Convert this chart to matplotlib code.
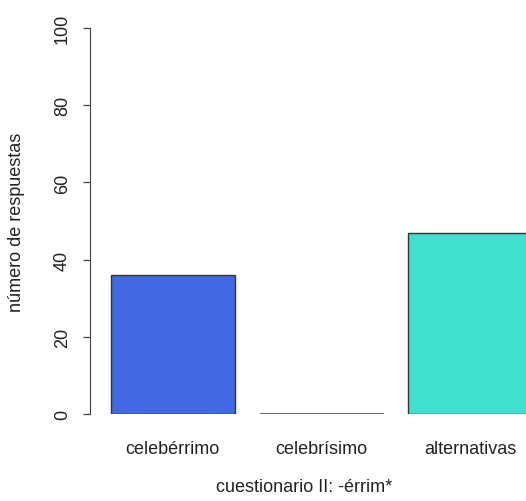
import matplotlib
matplotlib.use("Agg")
import matplotlib.pyplot as plt

categories = ["celebérrimo", "celebrísimo", "alternativas"]
values = [36, 0, 47]
colors = ["#4169E1", "#FFFFFF", "#40E0D0"]
yticks = [0, 20, 40, 60, 80, 100]

plt.rcParams['font.family'] = ['Liberation Sans', 'DejaVu Sans']
FS = 13

W, H = 526, 502
fig = plt.figure(figsize=(W/100, H/100), dpi=100)
# axes spans pixel x 100..526, y 29..415 (top-down)
ax = fig.add_axes([100/W, (H-415)/H, (526-100)/W, (415-29)/H])

lefts = [0.2 + i*1.2 for i in range(len(values))]
centers = [l + 0.5 for l in lefts]
ax.bar(centers, values, width=1.0, color=colors, edgecolor="#333333", linewidth=1.0)
# zero-height bar shows as a line
for c, v in zip(centers, values):
    if v == 0:
        ax.plot([c-0.5, c+0.5], [0, 0], color="#555555", lw=1.2, solid_capstyle='butt')

ax.set_xlim(0.2 - 10.7/124, 0.2 + 415.3/124)
ax.set_ylim(0, 100)
for s in ["top", "right", "bottom"]:
    ax.spines[s].set_visible(False)
ax.spines["left"].set_position(("outward", 7))
ax.spines["left"].set_bounds(0, 100)
ax.spines["left"].set_color("#444444")
ax.set_yticks(yticks)
ax.set_yticklabels([str(t) for t in yticks], rotation=90, va="center", fontsize=FS, color="#222222")
ax.tick_params(axis="y", length=5, width=0.9, color="#444444", pad=9)
ax.set_xticks(centers)
ax.set_xticklabels(categories, fontsize=FS, color="#222222", va="center")
ax.tick_params(axis="x", length=0, pad=25)
ax.set_ylabel("número de respuestas", fontsize=FS, color="#222222", va="center")
ax.yaxis.set_label_coords(-(100-17)/(526-100), 0.5)
ax.set_xlabel("cuestionario II: -érrim*", fontsize=FS, color="#222222", va="center")
ax.xaxis.set_label_coords((304-100)/(526-100), -(488-415)/(415-29))

fig.savefig("out.png", dpi=100)
